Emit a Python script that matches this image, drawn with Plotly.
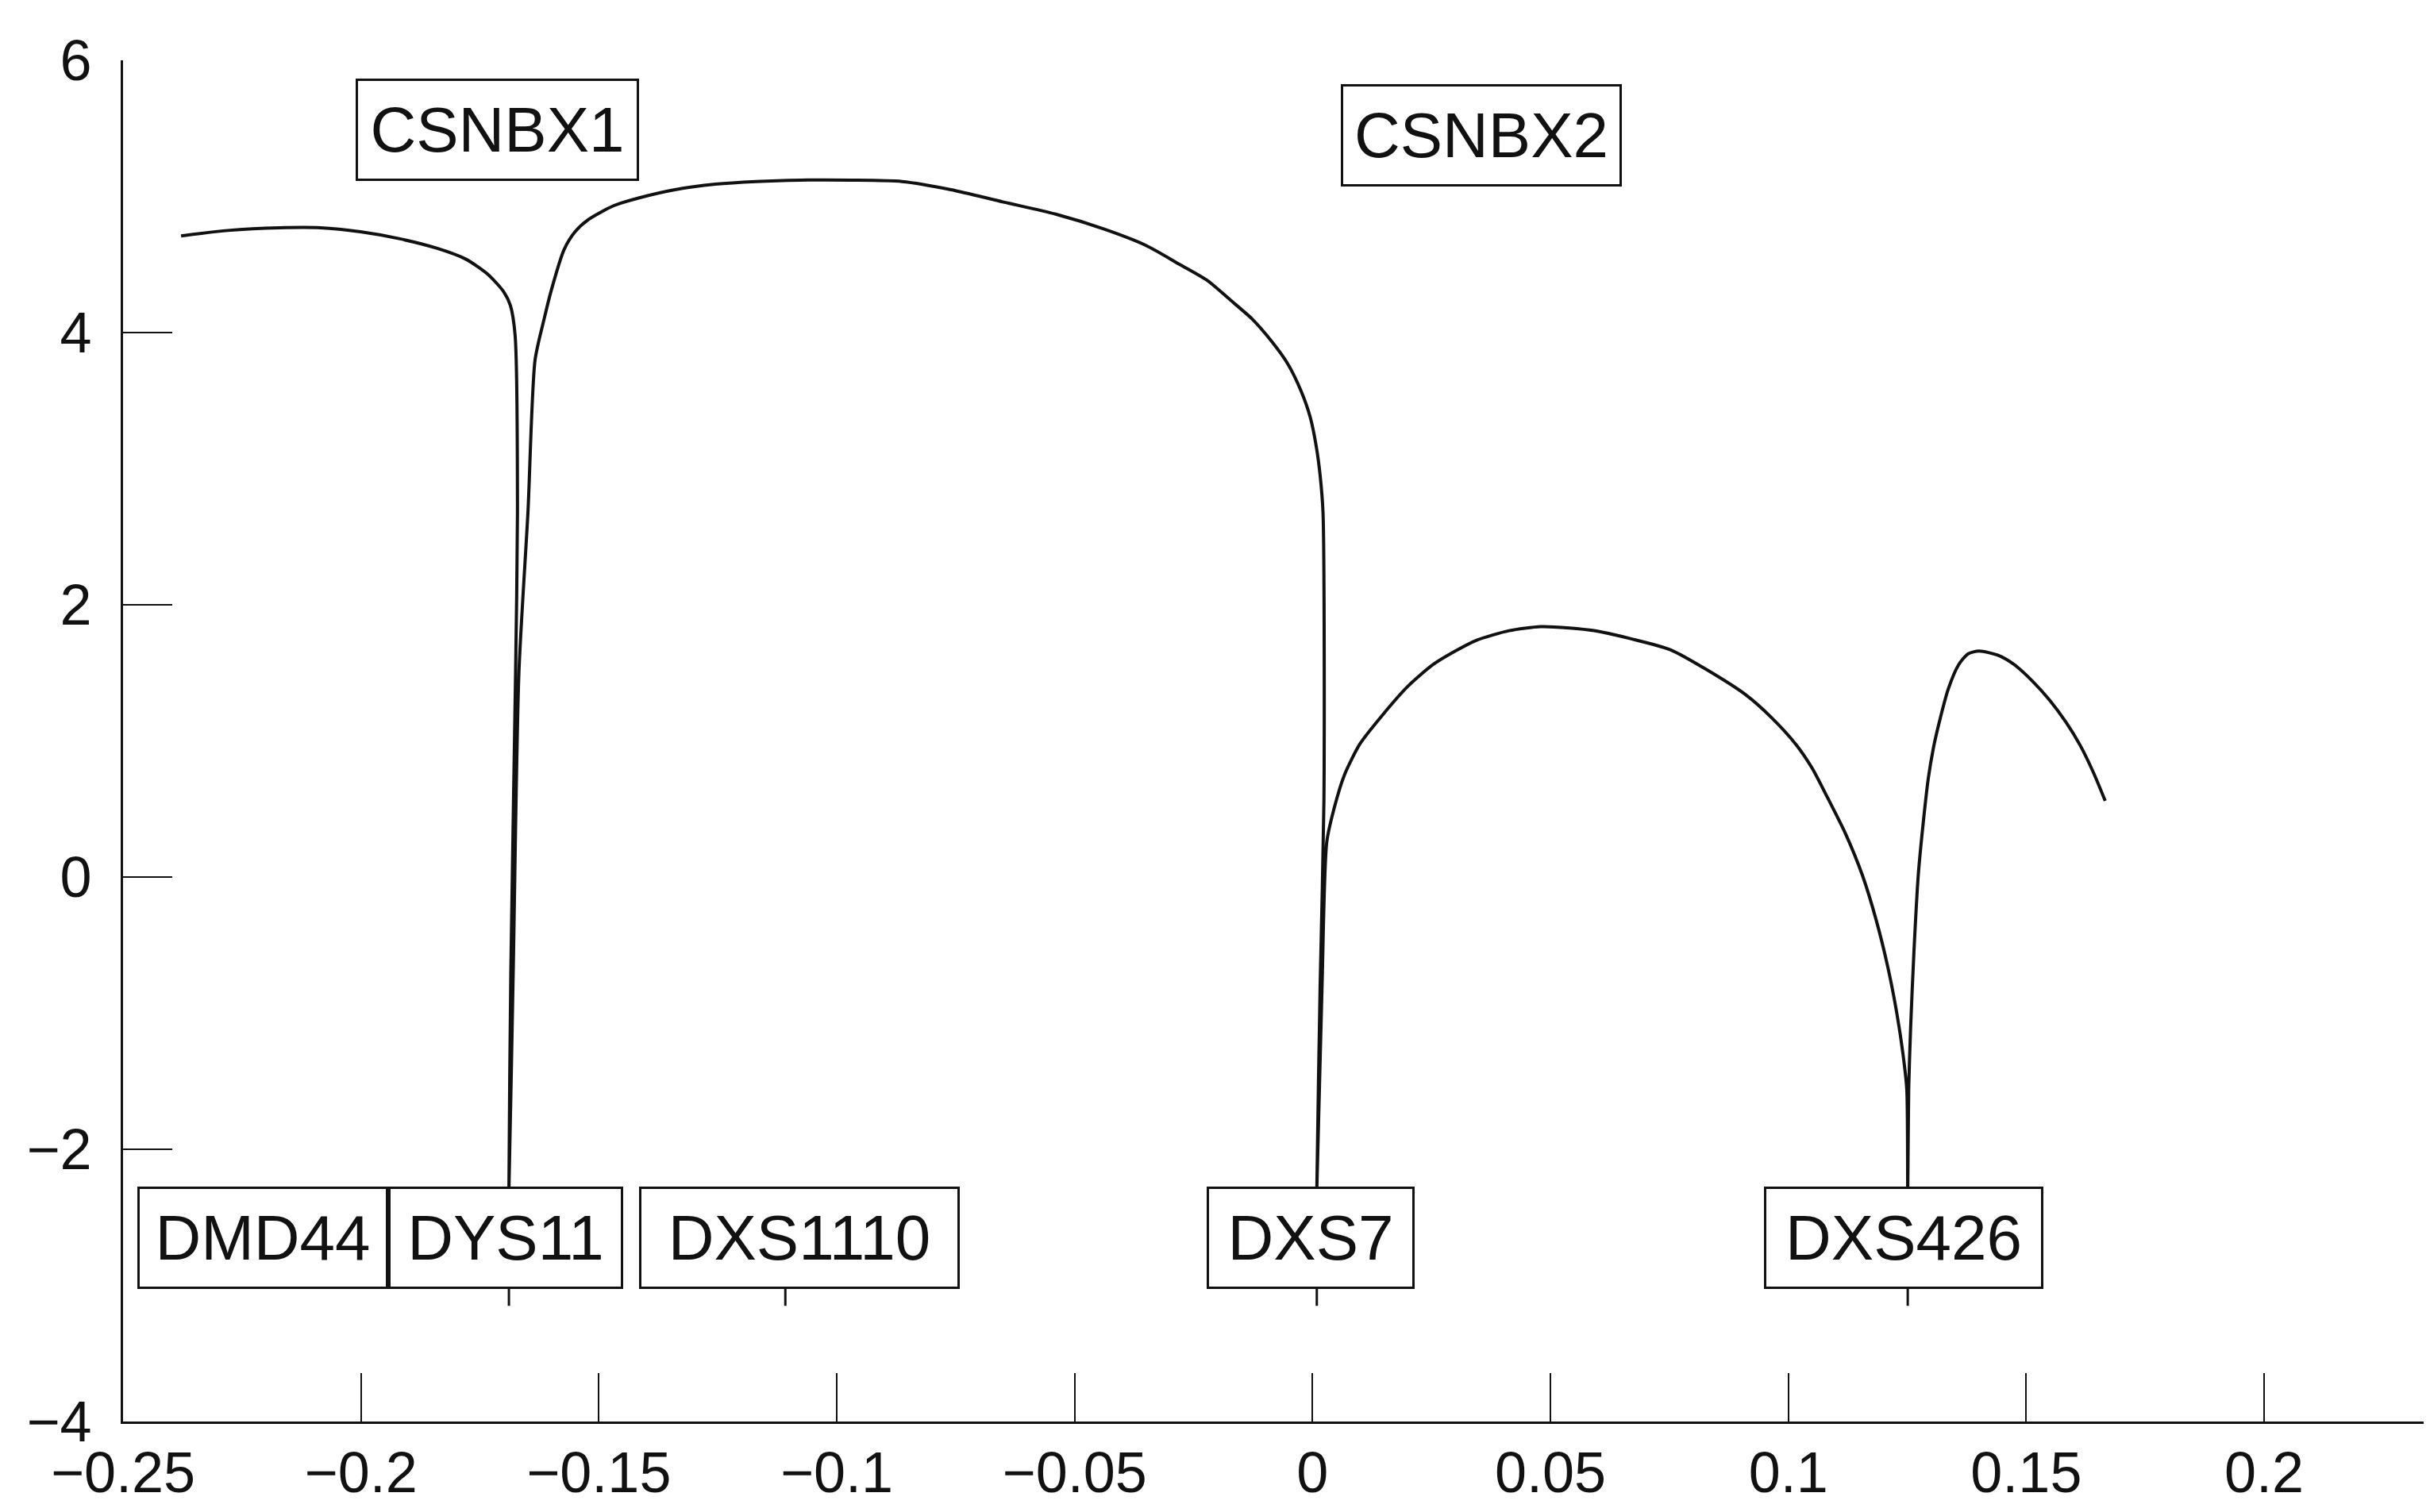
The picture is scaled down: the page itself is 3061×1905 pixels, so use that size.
import plotly.graph_objects as go

# ---- data ----
# LOD-score curve (recombination-fraction axis) ; markers drop to the box tops
curve_x = [
    -0.2378, -0.2280, -0.2171, -0.2085, -0.2001, -0.1920, -0.1841, -0.1780, -0.1734,
    -0.1700, -0.1686, -0.1676, -0.1671, -0.1675, -0.1685, -0.1689,
    -0.1680, -0.1668, -0.1649, -0.1634, -0.1615, -0.1600, -0.1573, -0.1550, -0.1522,
    -0.1470, -0.1415, -0.1340, -0.1255, -0.1170, -0.1077, -0.0970, -0.0863, -0.0760,
    -0.0651, -0.0540, -0.0438, -0.0350, -0.0279, -0.0220, -0.0173, -0.0127, -0.0087,
    -0.0052, -0.0024, -0.0005, 0.0008, 0.0016, 0.0022, 0.0024, 0.0016, 0.0009,
    0.0020, 0.0030, 0.0045, 0.0067, 0.0100, 0.0147, 0.0200, 0.0253, 0.0300, 0.0345,
    0.0413, 0.0480, 0.0540, 0.0592, 0.0670, 0.0752, 0.0830, 0.0910, 0.0965, 0.1017,
    0.1050, 0.1080, 0.1120, 0.1156, 0.1185, 0.1209, 0.1228, 0.1241, 0.1249, 0.1251,
    0.1253, 0.1257, 0.1264, 0.1273, 0.1283, 0.1294, 0.1305, 0.1316, 0.1336, 0.1358,
    0.1378, 0.1401, 0.1440, 0.1475, 0.1513, 0.1549, 0.1583, 0.1613, 0.1641, 0.1666,
]
curve_y = [
    4.71, 4.75, 4.77, 4.77, 4.74, 4.69, 4.62, 4.54, 4.43,
    4.30, 4.20, 3.98, 2.68, 1.50, -0.70, -2.30,
    -0.70, 1.50, 2.68, 3.80, 4.10, 4.31, 4.61, 4.74, 4.83,
    4.93, 4.99, 5.05, 5.09, 5.11, 5.12, 5.12, 5.11, 5.05,
    4.96, 4.87, 4.76, 4.64, 4.50, 4.38, 4.24, 4.10, 3.94,
    3.77, 3.57, 3.38, 3.16, 2.95, 2.68, 0.57, -0.80, -2.30,
    -0.80, 0.26, 0.50, 0.75, 0.98, 1.19, 1.40, 1.56, 1.66, 1.74,
    1.81, 1.84, 1.83, 1.81, 1.75, 1.67, 1.52, 1.34, 1.17, 0.97,
    0.80, 0.60, 0.32, 0.01, -0.32, -0.66, -1.00, -1.30, -1.56, -2.30,
    -1.56, -1.11, -0.55, 0.01, 0.38, 0.72, 0.95, 1.12, 1.38, 1.56,
    1.64, 1.66, 1.63, 1.56, 1.44, 1.30, 1.14, 0.97, 0.77, 0.56,
]

# marker loci along the bottom (name, map position)
marker_names = ["DMD44", "DYS11", "DXS1110", "DXS7", "DXS426"]
marker_label_x = [-0.2206, -0.1696, -0.1078, -0.0004, 0.1243]
marker_stem_x = [None, -0.1689, -0.1108, 0.0009, 0.1251]

# disease loci labels at the top
locus_names = ["CSNBX1", "CSNBX2"]
locus_x = [-0.1713, 0.0355]
locus_y = [5.49, 5.45]

x_ticks = [-0.25, -0.2, -0.15, -0.1, -0.05, 0, 0.05, 0.1, 0.15, 0.2]
y_ticks = [-4, -2, 0, 2, 4, 6]

# ---- styling ----
FONT = "Liberation Sans, Arial, Helvetica, sans-serif"
INK = "#111111"
BOX_W = {"DMD44": 316, "DYS11": 296, "DXS1110": 404, "DXS7": 262,
         "DXS426": 352, "CSNBX1": 357, "CSNBX2": 354}
BOX_H = 129
BW = 3
LABEL_Y = -2.65
STEM_TOP = -3.02
STEM_BOT = -3.15

fig = go.Figure()
fig.add_trace(go.Scatter(x=curve_x, y=curve_y, mode="lines",
                         line=dict(color=INK, width=4, shape="spline", smoothing=0.7),
                         hoverinfo="skip"))

sx, sy = [], []
for xs in marker_stem_x:
    if xs is None:
        continue
    sx += [xs, xs, None]
    sy += [STEM_TOP, STEM_BOT, None]
fig.add_trace(go.Scatter(x=sx, y=sy, mode="lines",
                         line=dict(color=INK, width=3), hoverinfo="skip"))

annotations = []
for name, xv in zip(marker_names, marker_label_x):
    annotations.append(dict(
        x=xv, y=LABEL_Y, xref="x", yref="y", text=name, showarrow=False,
        font=dict(family=FONT, size=80, color=INK),
        width=BOX_W[name] - 2 * BW, height=BOX_H - 2 * BW,
        bordercolor=INK, borderwidth=BW, borderpad=0, bgcolor="white",
        xanchor="center", yanchor="middle"))
for name, xv, yv in zip(locus_names, locus_x, locus_y):
    annotations.append(dict(
        x=xv, y=yv, xref="x", yref="y", text=name, showarrow=False,
        font=dict(family=FONT, size=80, color=INK),
        width=BOX_W[name] - 2 * BW, height=BOX_H - 2 * BW,
        bordercolor=INK, borderwidth=BW, borderpad=0, bgcolor="white",
        xanchor="center", yanchor="middle"))

fig.update_layout(
    width=3061, height=1905,
    margin=dict(l=147, r=0, t=68, b=122),
    paper_bgcolor="white", plot_bgcolor="white",
    showlegend=False,
    annotations=annotations,
    font=dict(family=FONT, size=72, color=INK),
)
fig.update_xaxes(
    range=[-0.25, 0.2362], tickvals=x_ticks, ticks="inside", ticklen=61,
    tickwidth=2, tickcolor=INK, showline=True, linewidth=3, linecolor=INK,
    showgrid=False, zeroline=False, tickfont=dict(family=FONT, size=72, color=INK),
    ticklabelstandoff=0,
)
fig.update_yaxes(
    range=[-4, 6], tickvals=y_ticks, ticks="inside", ticklen=62,
    tickwidth=2, tickcolor=INK, showline=True, linewidth=3, linecolor=INK,
    showgrid=False, zeroline=False, tickfont=dict(family=FONT, size=72, color=INK),
    ticklabelstandoff=22,
)

fig.write_html("out.html")
